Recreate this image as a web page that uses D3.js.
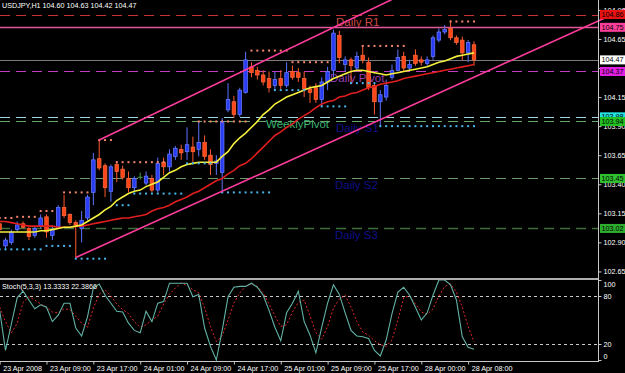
<!DOCTYPE html>
<html>
<head>
<meta charset="utf-8">
<script src="https://cdn.jsdelivr.net/npm/d3@7/dist/d3.min.js"></script>
<style>
body { margin:0; background:#000; }
svg { display:block; }
text { font-family:"Liberation Sans", Arial, sans-serif; }
</style>
</head>
<body>
<div id="chart-area"></div>
<script>
/*
*    USDJPY,H1 with pivots, channel and Stoch(5,3,3)
*/

// bars: 23 Apr 01:00 .. 28 Apr 09:00 (hourly)
var barOpen = [103.06,102.87,102.90,103.01,103.06,103.02,102.96,103.04,103.12,102.96,
    103.03,103.20,103.14,103.07,103.02,103.11,103.33,103.62,103.56,103.34,
    103.57,103.53,103.45,103.37,103.46,103.41,103.45,103.35,103.59,103.55,
    103.64,103.70,103.68,103.72,103.70,103.76,103.65,103.58,103.50,104.04,
    104.11,104.00,104.19,104.41,104.38,104.34,104.31,104.25,104.31,104.25,
    104.37,104.36,104.31,104.22,104.23,104.13,104.28,104.38,104.68,104.43,
    104.47,104.40,104.51,104.45,104.25,104.11,104.15,104.32,104.38,104.50,
    104.40,104.51,104.47,104.44,104.50,104.64,104.71,104.74,104.66,104.64,
    104.53,104.60];
var barHigh = [103.08,102.94,103.01,103.08,103.08,103.03,103.04,103.14,103.14,103.05,
    103.22,103.31,103.15,103.09,103.17,103.31,103.67,103.78,103.58,103.57,
    103.60,103.56,103.51,103.47,103.50,103.51,103.48,103.63,103.63,103.70,
    103.73,103.74,103.89,103.81,103.94,103.82,103.70,103.65,103.97,104.27,
    104.16,104.23,104.54,104.45,104.41,104.38,104.37,104.37,104.38,104.45,
    104.42,104.40,104.37,104.25,104.27,104.32,104.41,104.73,104.72,104.50,
    104.49,104.54,104.59,104.49,104.27,104.21,104.30,104.43,104.56,104.54,
    104.47,104.56,104.50,104.50,104.68,104.74,104.77,104.81,104.68,104.67,
    104.64,104.63];
var barLow = [102.99,102.84,102.88,102.99,103.02,102.92,102.94,103.02,102.94,102.92,
    103.02,103.11,103.05,102.77,102.90,103.09,103.22,103.52,103.29,103.25,
    103.42,103.44,103.33,103.33,103.44,103.39,103.33,103.33,103.48,103.51,
    103.61,103.61,103.61,103.59,103.64,103.61,103.48,103.48,103.33,104.02,
    103.97,103.98,104.18,104.32,104.30,104.25,104.19,104.21,104.22,104.23,
    104.30,104.28,104.15,104.10,104.10,104.07,104.21,104.32,104.44,104.37,
    104.27,104.37,104.44,104.21,104.00,103.90,104.12,104.30,104.37,104.37,
    104.38,104.42,104.42,104.42,104.47,104.62,104.69,104.64,104.60,104.47,
    104.45,104.42];
var barClose = [103.01,102.92,102.99,103.05,103.03,102.95,103.02,103.11,102.99,103.01,
    103.20,103.13,103.07,103.05,103.09,103.29,103.61,103.54,103.37,103.55,
    103.51,103.46,103.37,103.45,103.46,103.47,103.35,103.58,103.55,103.66,
    103.71,103.67,103.74,103.68,103.76,103.64,103.57,103.60,103.94,104.13,
    104.00,104.21,104.47,104.36,104.34,104.28,104.23,104.30,104.25,104.36,
    104.32,104.32,104.22,104.19,104.13,104.28,104.37,104.70,104.49,104.47,
    104.42,104.50,104.47,104.23,104.11,104.17,104.25,104.38,104.49,104.40,
    104.43,104.44,104.45,104.47,104.66,104.71,104.73,104.66,104.62,104.53,
    104.62,104.47];

// moving averages
var maFast = [102.99,102.99,102.99,102.99,102.99,102.99,102.99,103.00,103.00,103.01,
    103.02,103.03,103.03,103.04,103.05,103.08,103.11,103.14,103.18,103.21,
    103.26,103.29,103.32,103.34,103.35,103.38,103.40,103.42,103.46,103.50,
    103.52,103.55,103.57,103.58,103.59,103.59,103.59,103.59,103.64,103.68,
    103.75,103.80,103.84,103.89,103.94,104.00,104.04,104.09,104.12,104.15,
    104.17,104.19,104.21,104.23,104.24,104.25,104.28,104.31,104.33,104.35,
    104.37,104.38,104.38,104.37,104.36,104.35,104.34,104.35,104.36,104.37,
    104.38,104.39,104.40,104.41,104.43,104.45,104.46,104.48,104.50,104.51,
    104.52,104.53];
var maSlow = [103.08,103.08,103.07,103.06,103.05,103.04,103.04,103.04,103.04,103.04,
    103.03,103.03,103.03,103.04,103.04,103.05,103.06,103.07,103.08,103.09,
    103.10,103.11,103.11,103.12,103.13,103.14,103.17,103.19,103.20,103.22,
    103.25,103.27,103.29,103.32,103.34,103.37,103.40,103.43,103.45,103.49,
    103.52,103.56,103.58,103.62,103.67,103.72,103.77,103.82,103.85,103.89,
    103.92,103.96,103.99,104.02,104.06,104.09,104.11,104.12,104.15,104.16,
    104.18,104.19,104.21,104.23,104.24,104.26,104.27,104.28,104.29,104.31,
    104.32,104.33,104.34,104.35,104.36,104.37,104.38,104.39,104.40,104.41,
    104.42,104.43];

// stochastic (5,3,3)
var stochMain = [62,12,45,78,86,75,64,69,66,48,
    56,71,71,40,30,54,90,95,81,71,
    61,60,46,37,34,61,48,71,73,96,
    96,96,96,79,82,40,17,0,37,79,
    91,92,92,96,91,81,62,41,24,59,
    71,86,48,31,9,41,71,94,82,59,
    37,30,29,27,12,5,25,58,85,91,
    81,66,50,59,81,100,100,94,75,29,
    16,13.3333];
var stochSignal = [66,48,34,46,72,79,75,70,66,60,
    59,64,63,55,46,41,65,82,88,80,
    70,63,58,48,41,44,50,55,70,82,
    90,96,93,88,84,65,42,23,30,50,
    71,84,92,95,92,84,70,55,42,44,
    60,72,75,55,34,26,42,65,76,81,
    66,48,35,31,24,19,17,25,50,78,
    80,70,60,57,64,80,92,95,85,66,
    42,22.3866];

// resistance / support dots: [first bar, last bar, price]
var resistDots = [[0,2,103.11],[3,6,103.12],[7,9,103.17],[11,15,103.33],[17,19,103.78],
    [20,28,103.59],[34,42,103.94],[43,49,104.55],[50,56,104.45],[62,69,104.59],[77,81,104.80]];
var supportDots = [[0,7,102.84],[8,12,102.87],[13,18,102.76],[20,22,103.22],[23,31,103.32],
    [32,36,103.58],[38,46,103.33],[47,52,104.21],[55,59,104.07],[60,64,104.27],[65,81,103.90]];

// trend channel anchors [bar, price]
var channelUpper = [[17,103.78],[67,104.99]];
var channelLower = [[13,102.77],[63,103.91]];

// horizontal levels
var levelPrices = [104.86, 104.75, 104.47, 104.37, 103.98, 103.94, 103.45, 103.02];
var levelNames = ["Daily R1", "", "", "Daily Pivot", "WeeklyPivot", "Daily S1", "Daily S2", "Daily S3"];

// axes
var priceTicks = [102.65,102.90,103.15,103.40,103.65,103.90,104.15,104.40,104.65,104.90];
var timeTickBars = [0,8,16,24,32,40,48,56,64,72,80];
var timeTickLabels = ["23 Apr 2008","23 Apr 09:00","23 Apr 17:00","24 Apr 01:00","24 Apr 09:00",
    "24 Apr 17:00","25 Apr 01:00","25 Apr 09:00","25 Apr 17:00","28 Apr 00:00","28 Apr 08:00"];
var stochTicks = [100,80,20,0];
var stochLevels = [80,20];

// ---- styles ----
var levelStyle = [
    { line:"#c83232", dash:"10,6", w:1,   box:"#e81212", txt:"#d04848", tx:336 },
    { line:"#e0589a", dash:null,   w:1.6, box:"#ff3f9c", txt:null,      tx:0 },
    { line:"#7c7c7c", dash:null,   w:1,   box:"#ffffff", txt:null,      tx:0 },
    { line:"#c23cc2", dash:"10,6", w:1,   box:"#e21ee2", txt:"#9a3cb4", tx:330 },
    { line:"#9fd6e6", dash:"10,6", w:1,   box:"#22e2e2", txt:"#3cb371", tx:266 },
    { line:"#6aa86a", dash:"10,6", w:1,   box:"#22c022", txt:"#10108a", tx:336 },
    { line:"#6c9c6c", dash:"10,6", w:1,   box:"#30c030", txt:"#10108a", tx:335 },
    { line:"#3e6e3e", dash:"10,6", w:1.4, box:"#2eae2e", txt:"#10108a", tx:335 }
];

var width = 625, height = 373;
var main = { left:0, right:598, top:0, bottom:277 };
var sub = { top:280, bottom:361 };

var svg = d3.select("#chart-area")
    .append("svg")
    .attr("width", width)
    .attr("height", height)
    .style("background", "#000");

var x = d3.scaleLinear().domain([0, 81]).range([-0.35, 474]);
var y = d3.scaleLinear().domain([102.611, 104.985]).range([276, 0]);
var ys = d3.scaleLinear().domain([0, 100]).range([360, 280]);

var defs = svg.append("defs");
defs.append("clipPath").attr("id", "clip-main")
    .append("rect").attr("x", 0).attr("y", 0).attr("width", main.right).attr("height", main.bottom);
defs.append("clipPath").attr("id", "clip-wide")
    .append("rect").attr("x", 0).attr("y", 0).attr("width", width).attr("height", main.bottom);
defs.append("clipPath").attr("id", "clip-sub")
    .append("rect").attr("x", 0).attr("y", sub.top).attr("width", main.right).attr("height", sub.bottom - sub.top);

var g = svg.append("g").attr("clip-path", "url(#clip-main)");

// level lines
g.selectAll("line.level")
    .data(levelPrices)
    .enter().append("line")
        .attr("class", "level")
        .attr("x1", 0).attr("x2", main.right)
        .attr("y1", function(d) { return Math.round(y(d)) + 0.5; })
        .attr("y2", function(d) { return Math.round(y(d)) + 0.5; })
        .attr("stroke", function(d, i) { return levelStyle[i].line; })
        .attr("stroke-width", function(d, i) { return levelStyle[i].w; })
        .attr("stroke-dasharray", function(d, i) { return levelStyle[i].dash; });

// level names, drawn just under their line
g.selectAll("text.levelname")
    .data(levelPrices)
    .enter().append("text")
        .attr("class", "levelname")
        .attr("x", function(d, i) { return levelStyle[i].tx; })
        .attr("y", function(d) { return y(d) + 11; })
        .attr("font-size", "11.5px")
        .attr("fill", function(d, i) { return levelStyle[i].txt || "none"; })
        .text(function(d, i) { return levelNames[i]; });

// candles
var bars = d3.range(barOpen.length).map(function(i) {
    return { i:i, o:barOpen[i], h:barHigh[i], l:barLow[i], c:barClose[i] };
});

var candle = g.append("g").selectAll("g")
    .data(bars)
    .enter().append("g");

candle.append("line")
    .attr("x1", function(d) { return x(d.i); })
    .attr("x2", function(d) { return x(d.i); })
    .attr("y1", function(d) { return y(d.h); })
    .attr("y2", function(d) { return y(d.l); })
    .attr("stroke", function(d) {
        if (d.c == d.o) return "#46a046";
        return d.c > d.o ? "#5a74ff" : "#ff5a2e";
    })
    .attr("stroke-width", 1);

candle.filter(function(d) { return d.c != d.o; })
    .append("rect")
    .attr("x", function(d) { return x(d.i) - 1.8; })
    .attr("width", 3.6)
    .attr("y", function(d) { return y(Math.max(d.o, d.c)); })
    .attr("height", function(d) { return Math.max(1, Math.abs(y(d.o) - y(d.c))); })
    .attr("fill", function(d) { return d.c > d.o ? "#2a3cf4" : "#ff4618"; })
    .attr("stroke", function(d) { return d.c > d.o ? "#6c80ff" : "#ff6c40"; })
    .attr("stroke-width", 0.7);

candle.filter(function(d) { return d.c == d.o; })
    .append("line")
    .attr("x1", function(d) { return x(d.i) - 2.5; })
    .attr("x2", function(d) { return x(d.i) + 2.5; })
    .attr("y1", function(d) { return y(d.o); })
    .attr("y2", function(d) { return y(d.o); })
    .attr("stroke", "#46a046");

// moving averages
var maLine = function(arr) {
    return d3.line()
        .x(function(d, i) { return x(i); })
        .y(function(d) { return y(d); })(arr);
};
g.append("path").attr("d", maLine(maSlow))
    .attr("fill", "none").attr("stroke", "#e01e1e").attr("stroke-width", 1.6);
g.append("path").attr("d", maLine(maFast))
    .attr("fill", "none").attr("stroke", "#f4f03c").attr("stroke-width", 1.6);

// support / resistance dots
function drawDots(segs, color) {
    var pts = [];
    segs.forEach(function(s) {
        for (var b = s[0]; b <= s[1]; b++) pts.push({ b:b, p:s[2] });
    });
    g.append("g").selectAll("rect")
        .data(pts)
        .enter().append("rect")
            .attr("x", function(d) { return x(d.b) - 1; })
            .attr("y", function(d) { return y(d.p) - 1; })
            .attr("width", 2).attr("height", 2)
            .attr("fill", color);
}
drawDots(resistDots, "#f4866e");
drawDots(supportDots, "#48b6ea");

// channel lines, extended to the right (the lower one runs over the price scale)
var gw = svg.append("g").attr("clip-path", "url(#clip-wide)");
function drawRay(a, target) {
    var slope = (a[1][1] - a[0][1]) / (a[1][0] - a[0][0]);
    var endBar = 115;
    target.append("line")
        .attr("x1", x(a[0][0])).attr("y1", y(a[0][1]))
        .attr("x2", x(endBar)).attr("y2", y(a[0][1] + slope * (endBar - a[0][0])))
        .attr("stroke", "#ff3c9c")
        .attr("stroke-width", 1.6);
}
drawRay(channelUpper, g);
drawRay(channelLower, gw);

// title
svg.append("text")
    .attr("x", 2).attr("y", 7.5)
    .attr("font-size", "7.2px")
    .attr("fill", "#fff")
    .text("USDJPY,H1  104.60 104.63 104.42 104.47");

// ---- stochastic window ----
var gs = svg.append("g").attr("clip-path", "url(#clip-sub)");

gs.selectAll("line.slevel")
    .data(stochLevels)
    .enter().append("line")
        .attr("x1", 0).attr("x2", main.right)
        .attr("y1", function(d) { return Math.round(ys(d)) + 0.5; })
        .attr("y2", function(d) { return Math.round(ys(d)) + 0.5; })
        .attr("stroke", "#c8c8c8")
        .attr("stroke-dasharray", "3,3");

gs.append("path").attr("d", d3.line()
        .x(function(d, i) { return x(i); })
        .y(function(d) { return ys(d); })(stochSignal))
    .attr("fill", "none").attr("stroke", "#e02828").attr("stroke-width", 1)
    .attr("stroke-dasharray", "2,2");

gs.append("path").attr("d", d3.line()
        .x(function(d, i) { return x(i); })
        .y(function(d) { return ys(d); })(stochMain))
    .attr("fill", "none").attr("stroke", "#62b2a6").attr("stroke-width", 1.1);

svg.append("text")
    .attr("x", 2).attr("y", 289)
    .attr("font-size", "7.2px")
    .attr("fill", "#fff")
    .text("Stoch(5,3,3) 13.3333 22.3866");

// window frames
svg.append("line").attr("x1", 0).attr("x2", 599).attr("y1", 279).attr("y2", 279)
    .attr("stroke", "#e8e8e8").attr("stroke-width", 1.5);
svg.append("line").attr("x1", 0).attr("x2", 599).attr("y1", 361.5).attr("y2", 361.5)
    .attr("stroke", "#c8c8c8");
svg.append("line").attr("x1", 598.5).attr("x2", 598.5).attr("y1", 0).attr("y2", 361.5)
    .attr("stroke", "#c8c8c8");

// price axis; a label sitting right under a level box is left out
var boxTop = levelPrices.map(function(p) { return y(p); });
var yAxis = d3.axisRight(y)
    .tickValues(priceTicks)
    .tickSize(3)
    .tickPadding(2)
    .tickFormat(d3.format(".2f"));

var gy = svg.append("g")
    .attr("transform", "translate(598.5,0)")
    .call(yAxis);
gy.select(".domain").remove();
gy.selectAll("line").attr("stroke", "#c8c8c8");
gy.selectAll("text").attr("fill", "#fff").attr("font-size", "7.2px")
    .attr("font-family", "Liberation Sans, Arial, sans-serif")
    .attr("display", function(d) {
        var yy = y(d);
        return boxTop.some(function(b) { return Math.abs(b - yy) < 3.5; }) ? "none" : null;
    });

// level price boxes on the axis
var box = svg.append("g").selectAll("g")
    .data(levelPrices)
    .enter().append("g")
        .attr("transform", function(d) { return "translate(600," + y(d) + ")"; });
box.append("rect")
    .attr("x", 0).attr("y", -4.5).attr("width", 25).attr("height", 9)
    .attr("fill", function(d, i) { return levelStyle[i].box; });
box.append("text")
    .attr("x", 1.5).attr("y", 2.6)
    .attr("font-size", "7.2px")
    .attr("fill", "#000")
    .text(function(d) { return d.toFixed(2); });

// stochastic axis
var sAxis = d3.axisRight(ys)
    .tickValues(stochTicks)
    .tickSize(3)
    .tickPadding(2);
var gsa = svg.append("g")
    .attr("transform", "translate(598.5,0)")
    .call(sAxis);
gsa.select(".domain").remove();
gsa.selectAll("line").attr("stroke", "#c8c8c8");
gsa.selectAll("text").attr("fill", "#fff").attr("font-size", "7.2px")
    .attr("font-family", "Liberation Sans, Arial, sans-serif")
    .attr("dy", function(d) { return d == 100 ? "0.95em" : (d == 0 ? "-0.2em" : "0.32em"); });

// time axis
var xAxis = d3.axisBottom(x)
    .tickValues(timeTickBars)
    .tickSize(3)
    .tickFormat(function(d, i) { return timeTickLabels[i]; });
var gx = svg.append("g")
    .attr("transform", "translate(0,361.5)")
    .call(xAxis);
gx.select(".domain").remove();
gx.selectAll("line").attr("stroke", "#c8c8c8");
gx.selectAll("text")
    .attr("fill", "#fff")
    .attr("font-size", "7.2px")
    .attr("font-family", "Liberation Sans, Arial, sans-serif")
    .attr("text-anchor", "start")
    .attr("x", 3)
    .attr("y", 4)
    .attr("dy", "0.71em");
</script>
</body>
</html>
